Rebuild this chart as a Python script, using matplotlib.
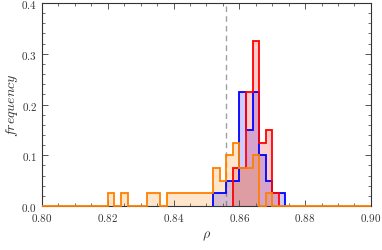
import matplotlib

matplotlib.use("Agg")

import matplotlib.pyplot as plt
import numpy as np
from matplotlib.ticker import MultipleLocator, FuncFormatter

# bin width 0.002 on rho
BIN_WIDTH = 0.002

red_bins = [0.858, 0.860, 0.862, 0.864, 0.866, 0.868, 0.870]
red_freq = [0.075, 0.075, 0.225, 0.325, 0.125, 0.150, 0.025]

blue_bins = [0.852, 0.854, 0.856, 0.858, 0.860, 0.862, 0.864, 0.866, 0.868, 0.870, 0.872]
blue_freq = [0.025, 0.025, 0.050, 0.050, 0.225, 0.150, 0.225, 0.100, 0.050, 0.025, 0.025]

orange_bins = [0.820, 0.824, 0.832, 0.834, 0.838, 0.840, 0.842, 0.844, 0.846, 0.848,
               0.850, 0.852, 0.854, 0.856, 0.858, 0.860, 0.862, 0.864, 0.868]
orange_freq = [0.025, 0.025, 0.025, 0.025, 0.025, 0.025, 0.025, 0.025, 0.025, 0.025,
               0.025, 0.075, 0.050, 0.100, 0.125, 0.075, 0.075, 0.100, 0.025]

rho_ref = 0.856

plt.rcParams["mathtext.fontset"] = "cm"
plt.rcParams["font.family"] = "serif"
plt.rcParams["font.serif"] = ["DejaVu Serif"]


def full_range(bins, freq, lo=0.80, hi=0.90):
    edges = np.round(np.arange(lo, hi + BIN_WIDTH / 2, BIN_WIDTH), 3)
    vals = np.zeros(len(edges) - 1)
    for b, f in zip(bins, freq):
        vals[int(round((b - lo) / BIN_WIDTH))] = f
    return edges, vals


def local_range(bins, freq):
    edges = np.round(np.append(bins, bins[-1] + BIN_WIDTH), 3)
    return edges, np.asarray(freq)


fig = plt.figure(figsize=(3.82, 2.51), dpi=100)
ax = fig.add_axes([0.110, 0.175, 0.861, 0.809])

series = [
    (local_range(blue_bins, blue_freq), "#0000ff"),
    (local_range(red_bins, red_freq), "#ff0000"),
    (full_range(orange_bins, orange_freq), "#ff8000"),
]

for (edges, vals), color in series:
    ax.stairs(vals, edges, fill=True, color=color, alpha=0.2, lw=0)
for (edges, vals), color in series:
    ax.stairs(vals, edges, color=color, lw=1.3, baseline=0, clip_on=False, zorder=3)

ax.axvline(rho_ref, color="#a0a0a0", lw=1.0, dashes=(4, 3), zorder=0.5)

ax.set_xlim(0.80, 0.90)
ax.set_ylim(0.0, 0.4)
ax.xaxis.set_major_locator(MultipleLocator(0.02))
ax.xaxis.set_minor_locator(MultipleLocator(0.005))
ax.yaxis.set_major_locator(MultipleLocator(0.1))
ax.yaxis.set_minor_locator(MultipleLocator(0.02))
ax.xaxis.set_major_formatter(FuncFormatter(lambda v, p: f"${v:.2f}$"))
ax.yaxis.set_major_formatter(FuncFormatter(lambda v, p: f"${v:.1f}$"))
ax.tick_params(which="both", direction="in", top=True, right=True, color="#555555",
               labelsize=8, labelcolor="#333333")
ax.tick_params(which="major", length=4, width=0.7)
ax.tick_params(which="minor", length=2, width=0.6)
for s in ax.spines.values():
    s.set_color("#333333")
    s.set_linewidth(0.8)

ax.set_xlabel(r"$\rho$", fontsize=10, color="#333333", labelpad=4)
ax.set_ylabel(r"$frequency$", fontsize=10, color="#333333")
ax.yaxis.set_label_coords(-0.068, 0.5)

fig.savefig("out.png", dpi=100)
